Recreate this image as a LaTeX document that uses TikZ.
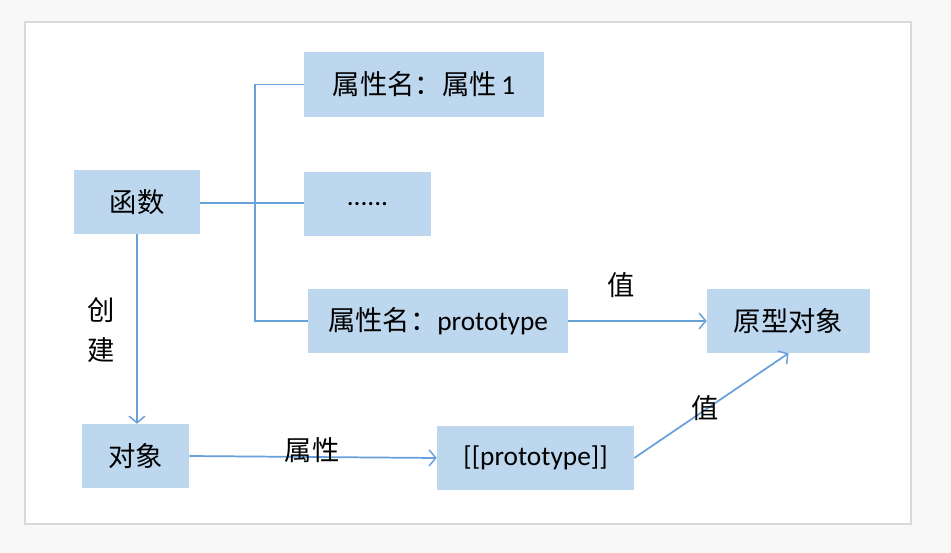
\documentclass[tikz,border=0pt]{standalone}
\usepackage{fontspec}
\setmainfont{Carlito}
\newfontfamily\cjk{Noto Sans CJK SC}
\usetikzlibrary{arrows.meta}
\definecolor{boxfill}{HTML}{BDD7EE}
\definecolor{linkblue}{RGB}{104,160,218}
\definecolor{pagegray}{HTML}{F8F8F8}
\definecolor{framegray}{HTML}{D9D9D9}

\begin{document}
\begin{tikzpicture}[x=0.75pt,y=-0.75pt,
    box/.style={fill=boxfill,minimum height=48pt,inner sep=0pt,font=\fontsize{20.5}{24}\selectfont},
    link/.style={draw=linkblue,line width=1.3pt},
    arr/.style={link,-{Straight Barb[length=5pt,width=12pt,line width=1.1pt]}},
    lbl/.style={font=\cjk\fontsize{20.5}{24}\selectfont,inner sep=0pt}]
  \fill[pagegray] (0,0) rectangle (951,553);
  \filldraw[fill=white,draw=framegray,line width=1.3pt] (25,22) rectangle (911,524);

  \node[box,minimum width=180pt,minimum height=48.75pt] (attr1) at (424,84.5) {{\cjk 属性名：属性}\,1};
  \node[box,minimum width=94.5pt] (func) at (137,202) {\cjk 函数};
  \node[box,minimum width=95.25pt] (dots) at (367.5,204) {......};
  \node[box,minimum width=195pt] (attrproto) at (438,321) {{\cjk 属性名：}prototype};
  \node[box,minimum width=122.25pt] (protoobj) at (788.5,321) {\cjk 原型对象};
  \node[box,minimum width=80.25pt] (obj) at (135.5,456) {\cjk 对象};
  \node[box,minimum width=147.75pt] (inner) at (535.5,458) {[[prototype]]};

  \coordinate (fork) at (255,203);
  \draw[link] (func.east |- fork) -- (dots.west |- fork);
  \draw[link] (attr1.west) -| (fork) |- (attrproto.west);

  \draw[arr] (func.south) -- (func.south |- obj.north);
  \draw[arr] (obj.east) -- (inner.west);
  \draw[arr] (attrproto.east) -- (protoobj.west);
  \draw[arr] (inner.east) -- (protoobj.south);

  \node[lbl,align=center,font=\cjk\fontsize{20.5}{30}\selectfont] (create) at (101,330) {创\\建};
  \node[lbl] (prop) at (312,450) {属性};
  \node[lbl] (val1) at (621,285) {值};
  \node[lbl] (val2) at (705,408) {值};
\end{tikzpicture}
\end{document}
